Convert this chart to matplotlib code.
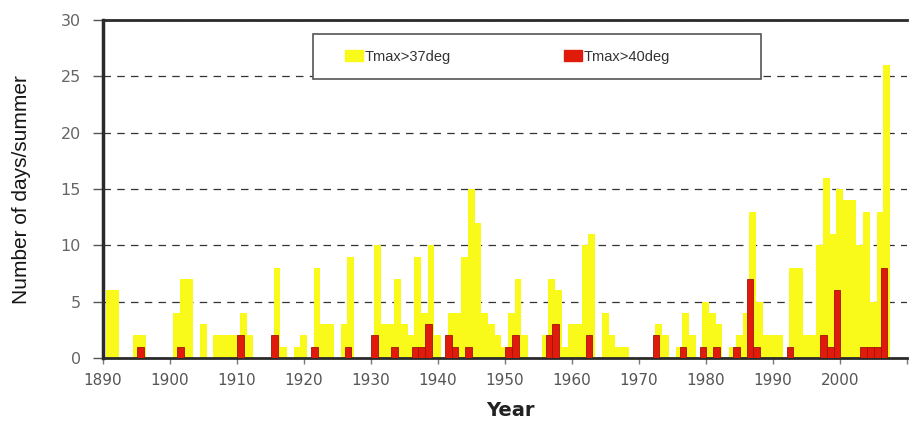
import numpy as np
import matplotlib.pyplot as plt
from matplotlib.patches import Rectangle

plt.rcParams['font.family'] = ['Liberation Sans', 'DejaVu Sans']

# one value per summer, 1890 .. 2006
years = np.arange(1890, 2007)

tmax37 = [6, 6, 0, 0, 2, 2, 0, 0, 0, 0,
          4, 7, 7, 0, 3, 0, 2, 2, 2, 2,
          4, 2, 0, 0, 0, 8, 1, 0, 1, 2,
          0, 8, 3, 3, 0, 3, 9, 0, 0, 0,
          10, 3, 3, 7, 3, 2, 9, 4, 10, 2,
          0, 4, 4, 9, 15, 12, 4, 3, 2, 1,
          4, 7, 2, 0, 0, 2, 7, 6, 1, 3,
          3, 10, 11, 0, 4, 2, 1, 1, 0, 0,
          0, 0, 3, 2, 0, 1, 4, 2, 0, 5,
          4, 3, 0, 1, 2, 4, 13, 5, 2, 2,
          2, 0, 8, 8, 2, 2, 10, 16, 11, 15,
          14, 14, 10, 13, 5, 13, 26]

tmax40 = [0, 0, 0, 0, 0, 1, 0, 0, 0, 0,
          0, 1, 0, 0, 0, 0, 0, 0, 0, 0,
          2, 0, 0, 0, 0, 2, 0, 0, 0, 0,
          0, 1, 0, 0, 0, 0, 1, 0, 0, 0,
          2, 0, 0, 1, 0, 0, 1, 1, 3, 0,
          0, 2, 1, 0, 1, 0, 0, 0, 0, 0,
          1, 2, 0, 0, 0, 0, 2, 3, 0, 0,
          0, 0, 2, 0, 0, 0, 0, 0, 0, 0,
          0, 0, 2, 0, 0, 0, 1, 0, 0, 1,
          0, 1, 0, 0, 1, 0, 7, 1, 0, 0,
          0, 0, 1, 0, 0, 0, 0, 2, 1, 6,
          0, 0, 0, 1, 1, 1, 8]

decades = list(range(1890, 2011, 10))
decade_labels = [str(d) for d in decades[:-1]] + ['']

fig = plt.figure(figsize=(9.13, 4.23), dpi=100)
ax = fig.add_axes([103 / 913, 65 / 423, 804 / 913, 338 / 423])

ax.bar(years + 0.95, tmax37, width=1.0, color='#f9f91a', zorder=2)
ax.bar(years + 0.55, tmax40, width=1.0, color='#e01b0b',
       edgecolor='#a01505', linewidth=0.6, zorder=3)

ax.set_xlim(1890, 2010)
ax.set_ylim(0, 30)
ax.set_yticks(range(0, 31, 5))
ax.set_xticks(decades)
ax.set_xticklabels(decade_labels)

ax.grid(axis='y', linestyle=(0, (6, 5)), color='#333333', linewidth=0.9, zorder=0)
ax.set_axisbelow(True)

for side in ['left', 'top', 'bottom']:
    ax.spines[side].set_color('#2a2a2a')
ax.spines['left'].set_linewidth(2.5)
ax.spines['top'].set_linewidth(2.0)
ax.spines['bottom'].set_linewidth(2.0)
ax.spines['right'].set_visible(False)

ax.tick_params(axis='y', direction='out', length=7, width=1, color='#555555',
               labelsize=11.5, labelcolor='#666666', pad=9)
ax.tick_params(axis='x', direction='out', length=4, width=1, color='#777777',
               labelsize=11, labelcolor='#555555', pad=7)
for lab in ax.get_xticklabels() + ax.get_yticklabels():
    lab.set_family('DejaVu Sans')

fig.text(22 / 913, 1 - 190 / 423, 'Number of days/summer', rotation=90,
         ha='center', va='center', fontsize=15, color='#151515')
fig.text(510 / 913, 1 - 410 / 423, 'Year', ha='center', va='center',
         fontsize=14, fontweight='bold', color='#222222', family='DejaVu Sans')

# legend frame drawn by hand so the box can be wider than its entries
ax.add_patch(Rectangle((0.261, 0.825), 0.558, 0.134, transform=ax.transAxes,
                       facecolor='white', edgecolor='#555555', linewidth=1.2,
                       zorder=4))
h1 = plt.Rectangle((0, 0), 1, 1, color='#f9f91a')
h2 = plt.Rectangle((0, 0), 1, 1, color='#e01b0b')
leg = ax.legend([h1, h2], ['Tmax>37deg', 'Tmax>40deg'], loc='center',
                bbox_to_anchor=(0.503, 0.892), ncol=2, frameon=False,
                fontsize=10.5, handlelength=1.2, handleheight=0.8,
                handletextpad=0.1, columnspacing=7.8, labelcolor='#333333')
leg.set_zorder(5)

fig.savefig('out.png', dpi=100)
